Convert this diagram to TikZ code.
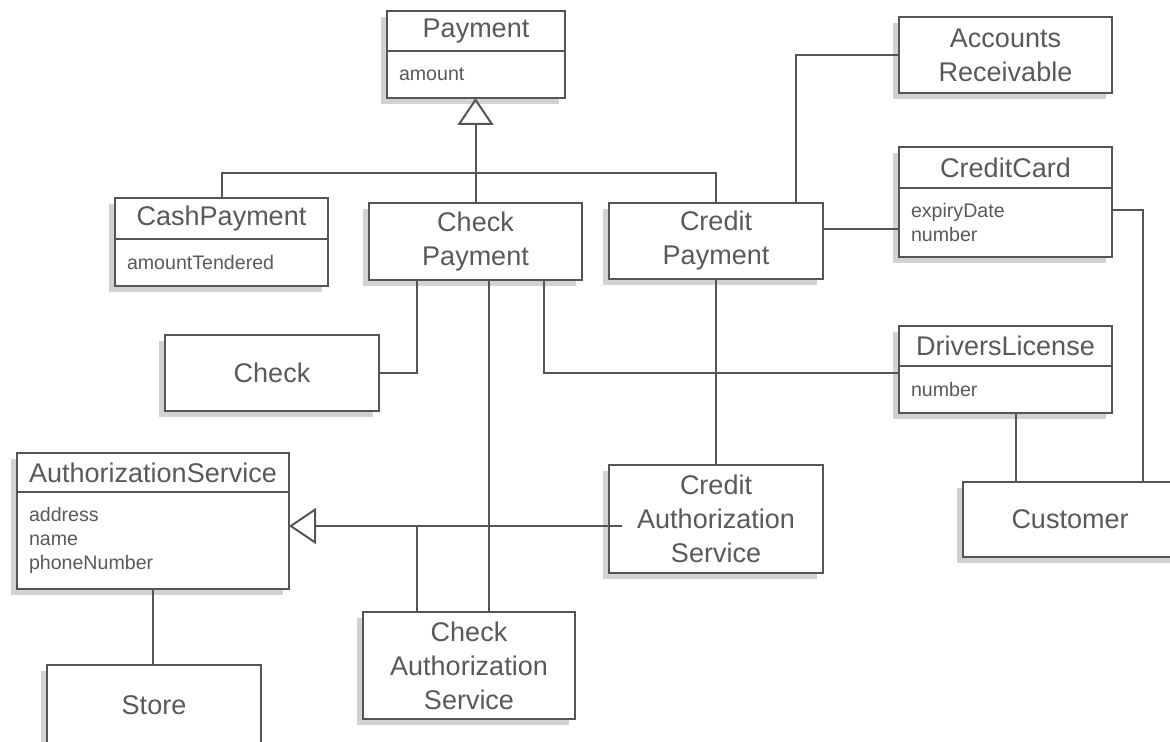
\documentclass[tikz,border=0pt]{standalone}
\usepackage{fontspec}
\setmainfont{Liberation Sans}
\usetikzlibrary{arrows.meta,calc,positioning,shadows}
\definecolor{umlln}{HTML}{555555}
\definecolor{umltx}{HTML}{595959}
\definecolor{umlsh}{HTML}{D2D2D2}
\tikzset{
  cls/.style={rectangle,draw=umlln,fill=white,line width=1pt,text=umltx,inner sep=0pt,outer sep=0pt,
    anchor=north west,align=center,font=\fontsize{13.5}{17}\selectfont,
    drop shadow={shadow xshift=-3pt,shadow yshift=-3pt,fill=umlsh,opacity=1}},
  att/.style={cls,align=left,inner xsep=6pt,font=\fontsize{9.8}{12}\selectfont},
  lnk/.style={draw=umlln,line width=1pt},
  gen/.style={lnk,-{Triangle[open,length=13.5pt,width=18pt]}},
}

\begin{document}
\begin{tikzpicture}[x=0.5pt,y=-0.5pt]
\clip (0,0) rectangle (1170,742);
% payment hierarchy
\node[cls,minimum width=89pt,minimum height=20pt] (payH) at (387,11) {Payment};
\node[att,text width=77pt,minimum height=23.5pt] (payA) at (payH.south west) {amount};
\node[cls,minimum width=106.5pt,minimum height=20.5pt] (cashH) at (115,198) {CashPayment};
\node[att,text width=94.5pt,minimum height=23.5pt] (cashA) at (cashH.south west) {amountTendered};
\node[cls,minimum width=106.5pt,minimum height=38.5pt] (chkpay) at (369,203) {Check\\Payment};
\node[cls,minimum width=107pt,minimum height=38pt] (crpay) at (609,203) {Credit\\Payment};
% things the payments refer to
\node[cls,minimum width=106.5pt,minimum height=38pt] (ar) at (899,17) {Accounts\\Receivable};
\node[cls,minimum width=106.5pt,minimum height=20.5pt] (ccH) at (899,147) {CreditCard};
\node[att,text width=94.5pt,minimum height=34.5pt] (ccA) at (ccH.south west) {expiryDate\\number};
\node[cls,minimum width=107pt,minimum height=38pt] (chk) at (165,335) {Check};
\node[cls,minimum width=106.5pt,minimum height=20pt] (dlH) at (899,326) {DriversLicense};
\node[att,text width=94.5pt,minimum height=23.5pt] (dlA) at (dlH.south west) {number};
\node[cls,minimum width=107pt,minimum height=37.5pt] (cust) at (963,482) {Customer};
% authorization services
\node[cls,minimum width=136pt,minimum height=19.5pt] (asH) at (17,453) {AuthorizationService};
\node[att,text width=124pt,minimum height=48.5pt] (asA) at (asH.south west) {address\\name\\phoneNumber};
\node[cls,minimum width=107pt,minimum height=54pt] (cras) at (609,465) {Credit\\Authorization\\Service};
\node[cls,minimum width=106pt,minimum height=53.5pt] (chkas) at (363,612) {Check\\Authorization\\Service};
\node[cls,minimum width=107pt,minimum height=40pt] (store) at (47,665) {Store};
% generalization of payments
\coordinate (gbus) at (476,173);
\draw[gen] (chkpay.north) -- (chkpay.north |- payA.south);
\draw[lnk] (cashH.north) |- (crpay.north |- gbus) -- (crpay.north);
% associations
\draw[lnk] ($(chkpay.south)+(-59,0)$) |- (chk.east);
\draw[lnk] ($(chkpay.south)+(68,0)$) |- ($(dlA.north west)+(0,7)$);
\coordinate (cpca) at ($(chkpay.south)+(13,0)$);
\draw[lnk] (cpca) -- (cpca |- chkas.north);
\draw[lnk] ($(crpay.north)+(80,0)$) |- (ar.west);
\coordinate (cpcc) at ($(crpay.east)+(0,-12)$);
\draw[lnk] (cpcc) -- (cpcc -| ccA.west);
\draw[lnk] (crpay.south) -- (cras.north);
\coordinate (ccbend) at (1143,210);
\draw[lnk] (ccA.east |- ccbend) -- (ccbend) -- (ccbend |- cust.north);
\coordinate (dlcu) at ($(dlA.south)+(10,0)$);
\draw[lnk] (dlcu) -- (dlcu |- cust.north);
\draw[lnk] (asA.south) -- (asA.south |- store.north);
% generalization of authorization services
\coordinate (asgen) at (417,526);
\draw[gen] ($(cras.west)+(13,7)$) -- (asA.east |- asgen);
\draw[lnk] (asgen) -- (asgen |- chkas.north);
\end{tikzpicture}
\end{document}
